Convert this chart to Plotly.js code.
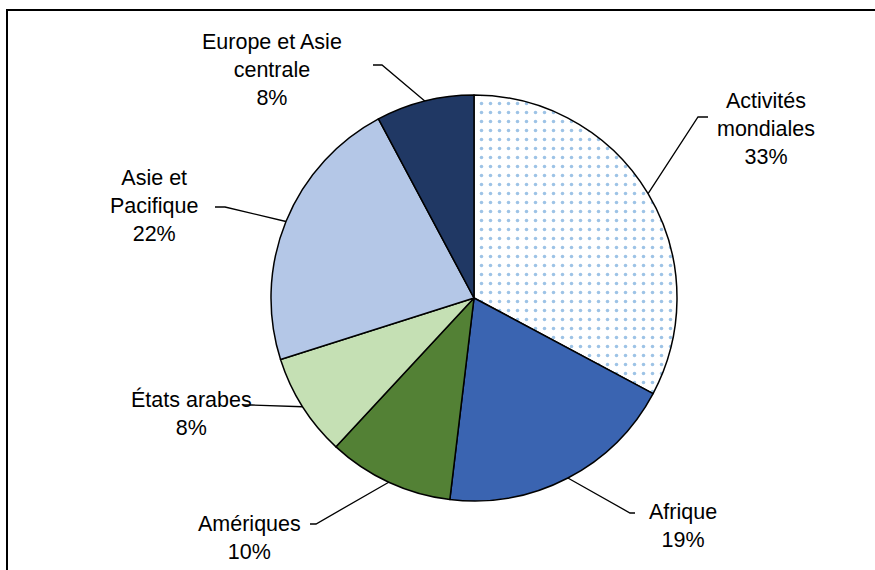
<!DOCTYPE html>
<html>
<head>
<meta charset="utf-8">
<script src="https://cdn.plot.ly/plotly-3.0.1.min.js"></script>
<style>html,body{margin:0;padding:0;background:#fff;}#chart{width:875px;height:570px;}</style>
</head>
<body>
<div id="chart"></div>
<script>
// Data
var regions = ["Activités mondiales", "Afrique", "Amériques", "États arabes", "Asie et Pacifique", "Europe et Asie centrale"];
var labelTexts = ["Activités<br>mondiales<br>33%", "Afrique<br>19%", "Amériques<br>10%", "États arabes<br>8%", "Asie et<br>Pacifique<br>22%", "Europe et Asie<br>centrale<br>8%"];
var shares = [32.8, 19.1, 10.0, 8.2, 22.1, 7.8];
var sliceColors = ["#ffffff", "#3a64b1", "#538135", "#c5e0b4", "#b4c7e7", "#203864"];

var W = 875, H = 570;
var cx = 474, cy = 298, R = 203;
function px(x){ return x / W; }
function py(y){ return 1 - y / H; }

// label placement (pixel centres) and leader-line elbows
var labelPos = [[766,129],[683,526],[249,538],[191,413],[154,206],[272,70]];
var elbows = [
  [[708,117],[698,117]],
  [[635,513],[630,513]],
  [[310,524],[316,524]],
  [[243,405],[252,405]],
  [[215,207],[225,207]],
  [[373,65],[382,65]]
];

var total = shares.reduce(function(a,b){return a+b;},0);
var cum = 0;
var shapes = [];
var annotations = [];
for (var i = 0; i < shares.length; i++) {
  var mid = (cum + shares[i]/2) / total;
  cum += shares[i];
  var ang = mid * 2 * Math.PI;
  var ex = cx + R * Math.sin(ang), ey = cy - R * Math.cos(ang);
  var e = elbows[i];
  var path = "M" + px(e[0][0]) + "," + py(e[0][1]) + " L" + px(e[1][0]) + "," + py(e[1][1]) + " L" + px(ex) + "," + py(ey);
  shapes.push({type:"path", xref:"paper", yref:"paper", path:path, line:{color:"#000", width:1.3}});
  annotations.push({
    x: px(labelPos[i][0]), y: py(labelPos[i][1]), xref:"paper", yref:"paper",
    text: labelTexts[i], showarrow:false, xanchor:"center", yanchor:"middle", align:"center",
    font:{family:"Liberation Sans Narrow, Arial Narrow, Liberation Sans, Arial, sans-serif", size:21.5, color:"#000"}
  });
}
// chart border (top and left visible)
shapes.push({type:"path", xref:"paper", yref:"paper", path:"M" + px(7) + "," + py(600) + " L" + px(7) + "," + py(10) + " L" + px(900) + "," + py(10), line:{color:"#000", width:2}});

var trace = {
  type:"pie",
  labels: regions,
  values: shares,
  sort:false,
  direction:"clockwise",
  rotation:0,
  textinfo:"none",
  hoverinfo:"label+percent",
  domain:{x:[px(cx-R), px(cx+R)], y:[py(cy+R), py(cy-R)]},
  marker:{
    colors: sliceColors,
    line:{color:"#000", width:1.5},
    pattern:{
      shape:[".", "", "", "", "", ""],
      fgcolor:"#9dc3e6",
      bgcolor:"#ffffff",
      size:9,
      solidity:0.12
    }
  },
  showlegend:false
};

var layout = {
  width:W, height:H,
  margin:{l:0,r:0,t:0,b:0},
  paper_bgcolor:"#fff",
  showlegend:false,
  shapes:shapes,
  annotations:annotations
};

Plotly.newPlot("chart", [trace], layout, {displayModeBar:false, staticPlot:true});
</script>
</body>
</html>
